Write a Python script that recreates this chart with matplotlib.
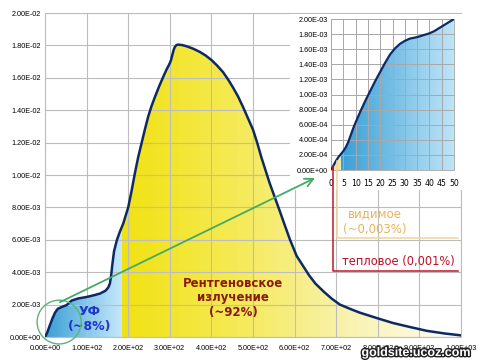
import matplotlib
matplotlib.use("Agg")
import matplotlib.pyplot as plt
import numpy as np
from matplotlib.colors import LinearSegmentedColormap
from matplotlib.patches import Ellipse, ConnectionPatch
import matplotlib.patheffects as pe

# main spectrum
main_x = [0, 5, 12, 18, 24, 31, 40, 52, 64, 80, 100, 118, 132, 145, 152, 156, 159, 162,
          166, 173, 180, 188, 200, 208, 216, 224, 232, 240, 248, 256, 264, 274, 284, 292,
          300, 303, 306, 309, 312, 316, 320, 330, 340, 356, 372, 386, 400, 414, 428, 440,
          452, 464, 476, 488, 500, 510, 520, 530, 540, 552, 564, 575, 589, 605, 620, 635,
          650, 670, 690, 709, 735, 757, 800, 837, 880, 918, 960, 1000]
main_y = [0, 0.25e-3, 0.75e-3, 1.15e-3, 1.5e-3, 1.75e-3, 1.85e-3, 1.97e-3, 2.25e-3,
          2.38e-3, 2.47e-3, 2.58e-3, 2.68e-3, 2.85e-3, 3.05e-3, 3.3e-3, 3.8e-3, 4.5e-3,
          5.3e-3, 6.0e-3, 6.5e-3, 7.0e-3, 8.0e-3, 9.0e-3, 10.1e-3, 11.1e-3, 11.95e-3,
          12.8e-3, 13.6e-3, 14.25e-3, 14.8e-3, 15.45e-3, 16.05e-3, 16.5e-3,
          16.9e-3, 17.1e-3, 17.4e-3, 17.7e-3, 17.9e-3, 18.02e-3, 18.05e-3, 18.02e-3,
          17.95e-3, 17.8e-3, 17.6e-3, 17.38e-3, 17.1e-3, 16.75e-3, 16.35e-3, 15.9e-3,
          15.4e-3, 14.85e-3, 14.2e-3, 13.5e-3, 12.8e-3, 12.0e-3, 11.1e-3, 10.3e-3,
          9.5e-3, 8.65e-3, 7.8e-3, 7.0e-3, 6.0e-3, 5.0e-3, 4.4e-3, 3.8e-3,
          3.3e-3, 2.8e-3, 2.35e-3, 2.0e-3, 1.72e-3, 1.5e-3, 1.15e-3, 0.86e-3, 0.6e-3,
          0.38e-3, 0.22e-3, 0.1e-3]
uv_end = 185

# zoomed part 0..50
zoom_x = [0, 1, 2, 3, 4, 5, 6, 7, 8, 9, 10, 12, 14, 16, 18, 20, 22, 24, 26, 28, 30,
          32, 35, 38, 40, 42, 44, 46, 48, 50]
zoom_y = [0, 0.06e-3, 0.12e-3, 0.17e-3, 0.21e-3, 0.25e-3, 0.3e-3, 0.37e-3, 0.46e-3,
          0.55e-3, 0.63e-3, 0.78e-3, 0.92e-3, 1.05e-3, 1.18e-3, 1.30e-3, 1.42e-3,
          1.53e-3, 1.61e-3, 1.67e-3, 1.71e-3, 1.74e-3, 1.76e-3, 1.79e-3, 1.81e-3,
          1.84e-3, 1.88e-3, 1.92e-3, 1.96e-3, 2.0e-3]
heat_x = 0.8
vis_x = 2.4
vis_end = 4

grid_c = '#bdbdbd'
line_c = '#0d2a66'


def grad_fill(ax, x, y, x0, x1, colors, z=1):
    poly = ax.fill_between(x, y, 0, facecolor='none', edgecolor='none')
    cmap = LinearSegmentedColormap.from_list('g', colors)
    g = np.linspace(0, 1, 256).reshape(1, -1)
    im = ax.imshow(g, extent=[x0, x1, 0, max(y)], aspect='auto', cmap=cmap,
                   zorder=z, origin='lower')
    im.set_clip_path(poly.get_paths()[0], transform=ax.transData)


fig = plt.figure(figsize=(4.8, 3.63), dpi=100)
W, H = 480, 363

ax = fig.add_axes([45 / W, 1 - 337 / H, 416 / W, 324 / H])
grad_fill(ax, main_x, main_y, 0, uv_end, ['#3a9fd5', '#c6e8fa'])
grad_fill(ax, main_x, main_y, uv_end, 1000, ['#f1e212', '#f5ea55', '#f9f2b0', '#fffef6'])
ax.plot(main_x, main_y, color=line_c, lw=1.8, zorder=3, solid_joinstyle='round')
ax.set_xlim(0, 1000)
ax.set_ylim(0, 0.02)
ax.set_xticks(np.arange(0, 1001, 100))
ax.set_yticks(np.arange(0, 0.02001, 0.002))
ax.xaxis.set_major_formatter(lambda v, p: '%.2E' % v)
ax.yaxis.set_major_formatter(lambda v, p: '%.2E' % v)
ax.set_axisbelow(False)
ax.grid(True, color=grid_c, lw=0.8)
ax.tick_params(length=0, labelsize=5.2, labelfontfamily='Liberation Sans')
ax.tick_params(axis='x', pad=6)
ax.tick_params(axis='y', pad=3)
for s in ax.spines.values():
    s.set_color(grid_c)
    s.set_linewidth(0.8)

ax.text(108, 1.6e-3, 'УФ', color='#1f35c8', fontsize=9, fontweight='bold',
        ha='center', va='center', zorder=4)
ax.text(108, 0.66e-3, '(~8%)', color='#1f35c8', fontsize=9, fontweight='bold',
        ha='center', va='center', zorder=4)
for t, yy in [('Рентгеновское', 3.32e-3), ('излучение', 2.43e-3), ('(~92%)', 1.54e-3)]:
    ax.text(452, yy, t, color='#8a1a10', fontsize=8.5, fontweight='bold',
            ha='center', va='center', zorder=4)

ax.add_patch(Ellipse((34, 0.92e-3), 106, 2.7e-3, fill=False, ec='#5bb37a',
                     lw=1.0, clip_on=False, zorder=4))

# white box behind the zoomed chart
bg = fig.add_axes([290 / W, 1 - 190 / H, 182 / W, 176 / H])
bg.set_facecolor('white')
bg.set_xticks([])
bg.set_yticks([])
for s in bg.spines.values():
    s.set_visible(False)

ins = fig.add_axes([331 / W, 1 - 170 / H, 123 / W, 151 / H])
ins.fill_between(zoom_x[:2], zoom_y[:2], 0, color='#a0303c', lw=0, zorder=1)
ins.fill_between(zoom_x[1:5], zoom_y[1:5], 0, color='#f2e4a4', lw=0, zorder=1)
grad_fill(ins, zoom_x[4:], zoom_y[4:], vis_end, 50, ['#3a9fd5', '#c0e5f8'])
ins.plot(zoom_x, zoom_y, color=line_c, lw=1.6, zorder=3, solid_joinstyle='round')
ins.set_xlim(0, 50)
ins.set_ylim(0, 2e-3)
ins.set_xticks(np.arange(0, 51, 5))
ins.set_yticks(np.arange(0, 2.0001e-3, 2e-4))
ins.yaxis.set_major_formatter(lambda v, p: '%.2E' % v)
ins.set_axisbelow(False)
ins.grid(True, color='#a8a8a8', lw=0.7)
ins.tick_params(length=0)
ins.tick_params(axis='x', labelsize=5.6, pad=6.5)
ins.tick_params(axis='y', labelsize=5.2, labelfontfamily='Liberation Sans', pad=2)
for s in ins.spines.values():
    s.set_color('#b0b0b0')
    s.set_linewidth(0.7)

# heat and visible markers
ins.plot([heat_x, heat_x, 51.6], [0.05e-3, -1.34e-3, -1.34e-3], color='#c0182c',
         lw=1.1, clip_on=False, zorder=4)
ins.plot([vis_x, vis_x, 51.6], [0.12e-3, -0.9e-3, -0.9e-3], color='#f0d49a',
         lw=1.1, clip_on=False, zorder=4)

fig.text(375 / W, 1 - 214 / H, 'видимое', color='#e8b45a', fontsize=8.5,
         ha='center', va='center')
fig.text(375 / W, 1 - 229 / H, '(~0,003%)', color='#e8b45a', fontsize=8.5,
         ha='center', va='center')
fig.text(398 / W, 1 - 262 / H, 'тепловое (0,001%)', color='#c0102a', fontsize=8.3,
         ha='center', va='center')

con = ConnectionPatch(xyA=(36, 2.15e-3), coordsA=ax.transData,
                      xyB=(-6.5, -0.106e-3), coordsB=ins.transData,
                      arrowstyle='->,head_length=0.6,head_width=0.3',
                      color='#44aa6a', lw=1.3, zorder=6)
fig.add_artist(con)

fig.text(416 / W, 1 - 353 / H, 'goldsite.ucoz.com', color='white', fontsize=9,
         fontweight='bold', family='Liberation Sans', ha='center', va='center',
         path_effects=[pe.withStroke(linewidth=2, foreground='#202020')])

fig.savefig('out.png', dpi=100)
